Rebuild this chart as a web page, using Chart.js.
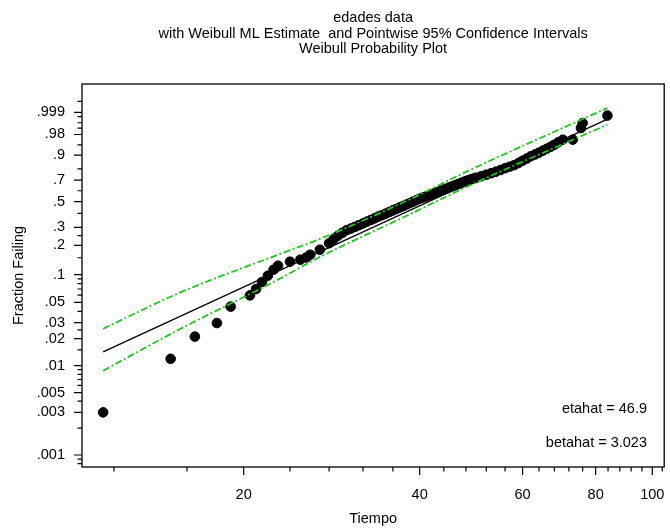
<!DOCTYPE html>
<html>
<head>
<meta charset="utf-8">
<script src="https://cdn.jsdelivr.net/npm/chart.js@4.4.1/dist/chart.umd.min.js"></script>
<style>
  html, body { margin: 0; padding: 0; background: #fff; }
  #wrap { width: 670px; height: 529px; }
</style>
</head>
<body>
<div id="wrap"><canvas id="myChart" width="670" height="529"></canvas></div>
<script>
// observed ages (Tiempo) and plotted fraction failing
const ages = [11.5, 15.0, 16.5, 18.0, 19.0, 20.5, 21.0, 21.5, 22.0, 22.5, 22.9, 24.0, 25.0, 25.6, 26.0,
  27.0, 28.0, 28.5, 29.0, 29.5, 30, 30.5, 31, 31.5, 32, 32.5, 33, 33.5, 34, 34.5, 35, 35.5, 36, 36.5, 37, 37.5, 38, 38.5, 39, 39.5,
  40, 40.5, 41, 41.5, 42, 42.5, 43, 43.5, 44, 44.5, 45, 45.5, 46, 46.5, 47, 47.5, 48, 48.5, 49, 49.5,
  50, 51, 52, 53, 54, 55, 56, 57, 58, 59, 60, 61, 62, 63, 64, 65, 66, 67, 68, 69, 70.3, 73.1, 75.5, 76.0, 83.8];
const fractions = [0.0030, 0.0119, 0.021, 0.0297, 0.045, 0.0597, 0.070, 0.0833, 0.0972, 0.1126, 0.124, 0.1365, 0.1432, 0.151, 0.1613,
  0.1814, 0.2106, 0.230, 0.2496, 0.266, 0.2817, 0.292, 0.3025, 0.314, 0.3258, 0.338, 0.3498, 0.362, 0.3750, 0.386, 0.3981, 0.411, 0.4240, 0.436, 0.4488, 0.461, 0.4738, 0.487, 0.4995, 0.513,
  0.5257, 0.536, 0.546, 0.556, 0.5663, 0.578, 0.589, 0.600, 0.6108, 0.621, 0.632, 0.642, 0.6523, 0.662, 0.672, 0.682, 0.6921, 0.700, 0.708, 0.715,
  0.7228, 0.736, 0.7497, 0.763, 0.7764, 0.791, 0.8058, 0.818, 0.8297, 0.846, 0.8630, 0.878, 0.8929, 0.903, 0.9133, 0.924, 0.9335, 0.942, 0.9504, 0.959, 0.9672, 0.9675, 0.9902, 0.9948, 0.9983];

// ML fit line ends
const fitAges = [11.5, 83.8];
const fitFractions = [0.0142, 0.9970];

// pointwise 95% confidence bands
const ciAges = [11.5, 15.5, 22.9, 26.8, 38.1, 48.2, 83.8];
const ciUpper = [0.0257, 0.0633, 0.1613, 0.2282, 0.5092, 0.7787, 0.99957];
const ciLower = [0.00877, 0.0251, 0.0882, 0.1492, 0.3833, 0.6384, 0.99352];

const xTickValues = [20, 40, 60, 80, 100];
const xMinorTicks = [12, 16, 24, 28, 32, 36, 44, 48, 52, 56, 64, 68, 72, 76, 84, 88, 92, 96, 104];
const yTickLabels = [".001", ".003", ".005", ".01", ".02", ".03", ".05", ".1", ".2", ".3", ".5", ".7", ".9", ".98", ".999"];
const yMinorTicks = [0.0008, 0.0009, 0.002, 0.004, 0.006, 0.007, 0.008, 0.009, 0.015, 0.025, 0.04, 0.06, 0.07, 0.08, 0.09,
  0.15, 0.25, 0.4, 0.6, 0.8, 0.95, 0.99, 0.995, 0.998, 0.9999];

const titleLines = ["edades data", "with Weibull ML Estimate  and Pointwise 95% Confidence Intervals", "Weibull Probability Plot"];
const notes = ["etahat = 46.9", "betahat = 3.023"];

const FONT = '"Liberation Sans", Arial, Helvetica, sans-serif';
const FSIZE = 14.5;
const green = "#22c322";

// Weibull probability scale
const wb = (p) => Math.log(-Math.log(1 - p));

const decorations = {
  id: "decorations",
  afterDraw(chart) {
    const { ctx, chartArea: a, scales } = chart;
    const xs = scales.x, ys = scales.y;
    ctx.save();
    ctx.strokeStyle = "#000";
    ctx.lineWidth = 1.3;
    ctx.strokeRect(a.left, a.top, a.right - a.left, a.bottom - a.top);

    ctx.lineWidth = 1.2;
    ctx.beginPath();
    xTickValues.forEach((v) => {
      const px = xs.getPixelForValue(v);
      ctx.moveTo(px, a.bottom); ctx.lineTo(px, a.bottom + 8);
    });
    xMinorTicks.forEach((v) => {
      const px = xs.getPixelForValue(v);
      if (px < a.left || px > a.right) return;
      ctx.moveTo(px, a.bottom); ctx.lineTo(px, a.bottom + 4.5);
    });
    yTickLabels.forEach((l) => {
      const py = ys.getPixelForValue(wb(parseFloat(l)));
      ctx.moveTo(a.left, py); ctx.lineTo(a.left - 8, py);
    });
    yMinorTicks.forEach((v) => {
      const py = ys.getPixelForValue(wb(v));
      if (py < a.top || py > a.bottom) return;
      ctx.moveTo(a.left, py); ctx.lineTo(a.left - 4.5, py);
    });
    ctx.stroke();

    const cx = (a.left + a.right) / 2;
    ctx.fillStyle = "#000";
    ctx.font = FSIZE + "px " + FONT;
    ctx.textAlign = "center";
    ctx.textBaseline = "middle";
    titleLines.forEach((t, i) => ctx.fillText(t, cx, 18 + i * 15.5));
    ctx.fillText("Tiempo", cx, 519);

    ctx.textAlign = "right";
    ctx.fillText(notes[0], 647, 409);
    ctx.fillText(notes[1], 647, 443);

    ctx.translate(19, (a.top + a.bottom) / 2);
    ctx.rotate(-Math.PI / 2);
    ctx.textAlign = "center";
    ctx.fillText("Fraction Failing", 0, 0);
    ctx.restore();
  },
};

new Chart(document.getElementById("myChart"), {
  type: "scatter",
  data: {
    datasets: [
      {
        label: "upper",
        type: "line",
        data: ciAges.map((t, i) => ({ x: t, y: wb(ciUpper[i]) })),
        borderColor: green,
        borderWidth: 1.8,
        borderDash: [7, 2.5, 2, 2.5],
        pointRadius: 0,
        cubicInterpolationMode: "monotone",
        order: 1,
      },
      {
        label: "lower",
        type: "line",
        data: ciAges.map((t, i) => ({ x: t, y: wb(ciLower[i]) })),
        borderColor: green,
        borderWidth: 1.8,
        borderDash: [7, 2.5, 2, 2.5],
        pointRadius: 0,
        cubicInterpolationMode: "monotone",
        order: 1,
      },
      {
        label: "data",
        data: ages.map((t, i) => ({ x: t, y: wb(fractions[i]) })),
        backgroundColor: "#000",
        borderColor: "#000",
        pointRadius: 4.8,
        pointHoverRadius: 4.8,
        order: 2,
      },
      {
        label: "fit",
        type: "line",
        data: fitAges.map((t, i) => ({ x: t, y: wb(fitFractions[i]) })),
        borderColor: "#000",
        borderWidth: 1.3,
        pointRadius: 0,
        order: 3,
      },
    ],
  },
  options: {
    responsive: false,
    animation: false,
    devicePixelRatio: 1,
    layout: { padding: { top: 84, right: 1, bottom: 0, left: 0 } },
    plugins: {
      legend: { display: false },
      tooltip: { enabled: false },
      title: { display: false },
    },
    scales: {
      x: {
        type: "logarithmic",
        min: 10.58,
        max: 104.8,
        afterBuildTicks: (s) => { s.ticks = xTickValues.map((v) => ({ value: v })); },
        afterFit: (s) => { s.height = 62; s.paddingLeft = 0; s.paddingRight = 0; },
        grid: { display: false, drawTicks: false },
        border: { display: false },
        ticks: {
          autoSkip: false,
          maxRotation: 0,
          padding: 19,
          color: "#000",
          font: { family: FONT, size: FSIZE },
          callback: (v) => String(v),
        },
      },
      y: {
        type: "linear",
        min: -7.217,
        max: 2.667,
        afterBuildTicks: (s) => { s.ticks = yTickLabels.map((l) => ({ value: wb(parseFloat(l)) })); },
        afterFit: (s) => { s.width = 82; s.paddingTop = 0; s.paddingBottom = 0; },
        grid: { display: false, drawTicks: false },
        border: { display: false },
        ticks: {
          autoSkip: false,
          padding: 17,
          color: "#000",
          font: { family: FONT, size: FSIZE },
          callback: (v, i) => yTickLabels[i],
        },
      },
    },
  },
  plugins: [decorations],
});
</script>
</body>
</html>
